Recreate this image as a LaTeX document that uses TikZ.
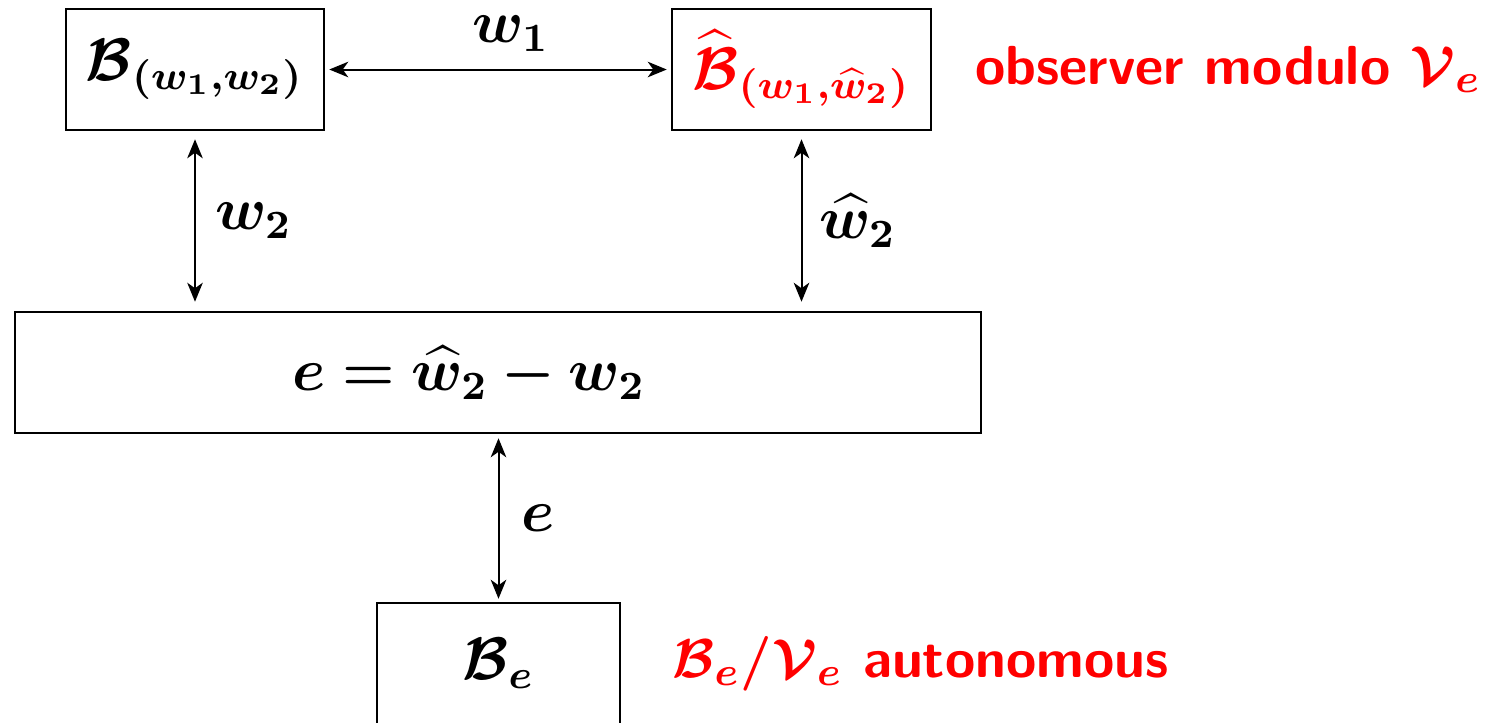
\documentclass[tikz,border=0pt]{standalone}
\usepackage{amsmath,bm}
\usetikzlibrary{arrows.meta,positioning}
\tikzset{
  >={Stealth[length=3.8pt,width=3.1pt,inset=1.1pt]},
  blk/.style={draw,line width=0.5pt,minimum height=24.2pt,inner sep=0pt},
  note/.style={font=\fontsize{11}{13}\selectfont\sffamily\bfseries,text=red},
  arr/.style={<->,line width=0.4pt},
}
\begin{document}
\begin{tikzpicture}[x=0.2pt,y=-0.2pt,every node/.style={font=\fontsize{12}{14}\selectfont}]
\useasboundingbox (0,0) rectangle (1491,722);
\node[blk,minimum width=51.6pt] (bw) at (195,69.5) {$\bm{\mathcal{B}_{(w_1,w_2)}}$};
\node[blk,minimum width=51.8pt,text=red] (bhat) at (801.5,69.5) {$\bm{\widehat{\mathcal{B}}_{(w_1,\widehat{w}_2)}}$};
\node[blk,minimum width=193.2pt,label={[xshift=-5.8pt]center:$\bm{e=\widehat{w}_2-w_2}$}] (err) at (498,372.5) {};
\node[blk,minimum width=48.6pt] (be) at (498.5,663.5) {$\bm{\mathcal{B}_e}$};
\node[note,right=5.1pt of bhat] (obs) {observer modulo $\bm{\mathcal{V}_e}$};
\node[note,right=6.7pt of be] (aut) {$\bm{\mathcal{B}_e/\mathcal{V}_e}$ autonomous};
% connections
\draw[arr,shorten <=0.8pt,shorten >=0.8pt] (bw) -- (bhat) node[midway,above,xshift=2.6pt] {$\bm{w_1}$};
\draw[arr,shorten <=1.6pt,shorten >=1.8pt] (bw.south) -- (bw.south |- err.north) node[midway,right=0.5pt] {$\bm{w_2}$};
\draw[arr,shorten <=1.6pt,shorten >=1.8pt] (bhat.south) -- (bhat.south |- err.north) node[midway,right=0pt] {$\bm{\widehat{w}_2}$};
\draw[arr,shorten <=0.8pt,shorten >=0.6pt] (be.north |- err.south) -- (be.north) node[midway,right=1pt] {$\bm{e}$};
\end{tikzpicture}
\end{document}
